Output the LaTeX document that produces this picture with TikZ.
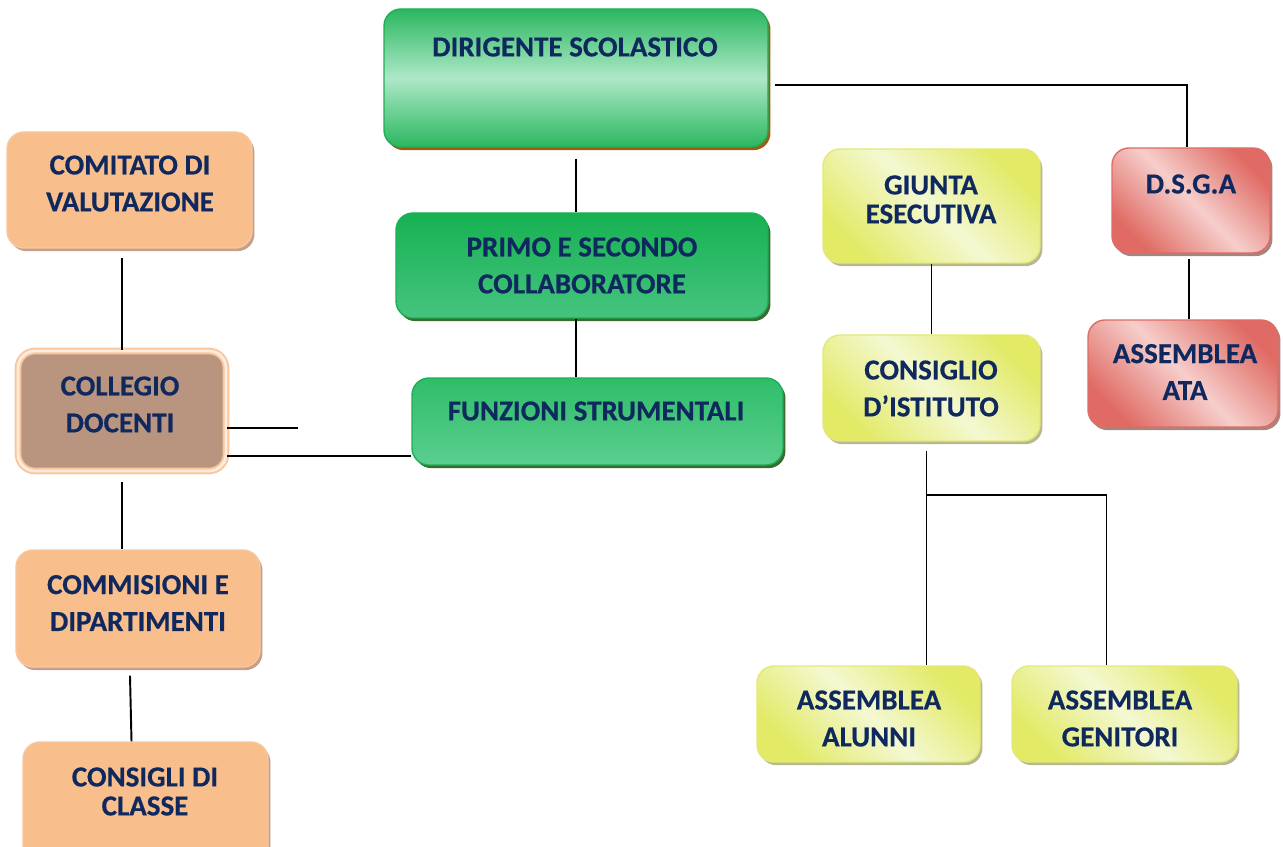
\documentclass[tikz,border=0pt]{standalone}
\usepackage{fontspec}
\setmainfont{Carlito}[BoldFeatures={FakeBold=0.5}]
\usetikzlibrary{shadows,fit}
\definecolor{navy}{HTML}{0F295E}
\definecolor{gborder}{HTML}{1EAE55}
\definecolor{gdark}{HTML}{2BB760}
\definecolor{glight}{HTML}{ADE8C7}
\definecolor{gtopA}{HTML}{17B152}
\definecolor{gbotA}{HTML}{45C47F}
\definecolor{gtopB}{HTML}{2FBD69}
\definecolor{gbotB}{HTML}{5BCE8E}
\definecolor{brownsh}{HTML}{9E5E10}
\definecolor{greensh}{HTML}{3A6A30}
\definecolor{orfill}{HTML}{F8BE8C}
\definecolor{orborder}{HTML}{F9C79E}
\definecolor{orsh}{HTML}{C4A08C}
\definecolor{brfill}{HTML}{B99580}
\definecolor{ydark}{HTML}{E2EA66}
\definecolor{ylight}{HTML}{F4F8D2}
\definecolor{yborder}{HTML}{E3E978}
\definecolor{ysh}{HTML}{B8B890}
\definecolor{rdark}{HTML}{E06B64}
\definecolor{rlight}{HTML}{F6CECB}
\definecolor{rborder}{HTML}{DE6C65}
\definecolor{rsh}{HTML}{A8847F}
\begin{document}
\begin{tikzpicture}[x=0.02cm,y=-0.02cm,
  box/.style={rounded corners=0.34cm, line width=0.8pt, inner sep=0pt},
  gbig/.style={box, draw=gborder, top color=gdark, bottom color=gdark, middle color=glight,
    drop shadow={shadow xshift=1.4pt, shadow yshift=-1.8pt, fill=brownsh, opacity=1}},
  gmidA/.style={box, draw=gborder, top color=gtopA, bottom color=gbotA,
    drop shadow={shadow xshift=1.4pt, shadow yshift=-1.8pt, fill=greensh, opacity=1}},
  gmidB/.style={box, draw=gborder, top color=gtopB, bottom color=gbotB,
    drop shadow={shadow xshift=1.4pt, shadow yshift=-1.8pt, fill=greensh, opacity=1}},
  obox/.style={box, draw=orborder, fill=orfill,
    drop shadow={shadow xshift=1.4pt, shadow yshift=-1.8pt, fill=orsh, opacity=1}},
  cbox/.style={box, draw=orborder, line width=1.1pt, double=white!70!orfill, double distance=1.6pt, fill=brfill},
  ybox/.style={box, draw=yborder, top color=ydark, bottom color=ydark, middle color=ylight, shading angle=-45,
    drop shadow={shadow xshift=1.4pt, shadow yshift=-1.8pt, fill=ysh, opacity=1}},
  rbox/.style={box, draw=rborder, top color=rdark, bottom color=rdark, middle color=rlight, shading angle=-45,
    drop shadow={shadow xshift=1.4pt, shadow yshift=-1.8pt, fill=rsh, opacity=1}},
  txt/.style={text=navy, font=\bfseries\fontsize{16.5}{21}\selectfont, align=center, inner sep=0pt},
  tight/.style={txt, font=\bfseries\fontsize{16.5}{16.5}\selectfont},
  conn/.style={line width=1.1pt, black}
]
\useasboundingbox (0,0) rectangle (1283,847);

% boxes
\node[gbig, fit={(384,9) (768,147)}] (dir) {};
\node[txt] (dirt) at (575,47) {DIRIGENTE SCOLASTICO};

\node[gmidA, fit={(396,213) (768,318)}] (primo) {};
\node[txt] (primot) at (582,265.5) {PRIMO E SECONDO\\COLLABORATORE};

\node[gmidB, fit={(412,378) (783,465)}] (funz) {};
\node[txt] (funzt) at (596,411) {FUNZIONI STRUMENTALI};

\node[obox, fit={(7,132) (252,248)}] (com) {};
\node[txt] (comt) at (130,183.5) {COMITATO DI\\VALUTAZIONE};

\node[cbox, fit={(18,351) (226,471)}] (coll) {};
\node[txt] (collt) at (120,404.5) {COLLEGIO\\DOCENTI};

\node[obox, fit={(16,550) (260,667)}] (comm) {};
\node[txt] (commt) at (138,603) {COMMISIONI E\\DIPARTIMENTI};

\node[obox, fit={(23,742) (268,875)}] (cons) {};
\node[tight] (const) at (145,791.5) {CONSIGLI DI\\CLASSE};

\node[ybox, fit={(823,149) (1040,263)}] (giunta) {};
\node[tight] (giuntat) at (931,199.5) {GIUNTA\\ESECUTIVA};

\node[ybox, fit={(823,335) (1040,441)}] (consi) {};
\node[txt] (consit) at (931,388.5) {CONSIGLIO\\D’ISTITUTO};

\node[rbox, fit={(1112,148) (1270,253)}] (dsga) {};
\node[txt] (dsgat) at (1191,184) {D.S.G.A};

\node[rbox, fit={(1088,320) (1278,427)}] (ata) {};
\node[txt] (atat) at (1185,372) {ASSEMBLEA\\ATA};

\node[ybox, fit={(757,666) (980,762)}] (alun) {};
\node[txt] (alunt) at (869,718.5) {ASSEMBLEA\\ALUNNI};

\node[ybox, fit={(1012,666) (1237,762)}] (gen) {};
\node[txt] (gent) at (1120,718.5) {ASSEMBLEA\\GENITORI};

% connectors
\draw[conn] ([shift={(6,7)}]dir.east) -| ([shift={(-4,0)}]dsga.north);
\draw[conn] ([shift={(0,11)}]dir.south) -- (dir.south |- primo.north);
\draw[conn] (dir.south |- primo.south) -- (dir.south |- funz.north);
\draw[conn] ([shift={(0,9)}]coll.north |- com.south) -- (coll.north);
\coordinate (stub) at (298,428);
\draw[conn] (coll.east |- stub) -- (stub);
\coordinate (fl) at ([shift={(0,-10)}]funz.south west);
\draw[conn] (coll.east |- fl) -- (fl);
\draw[conn] ([shift={(0,10)}]coll.south) -- (coll.south |- comm.north);
\draw[conn] ([shift={(-8,8)}]comm.south) -- ([shift={(-14,0)}]cons.north);
\draw[conn] (giunta.south) -- (giunta.south |- consi.north);
\draw[conn] ([shift={(-5,9)}]consi.south) -- ([shift={(-5,0)}]consi.south |- alun.north);
\coordinate (split) at (926,495);
\draw[conn] (split) -| ([shift={(-18,0)}]gen.north);
\draw[conn] ([shift={(-2,5)}]dsga.south) -- ([shift={(-2,0)}]dsga.south |- ata.north);
\end{tikzpicture}
\end{document}
